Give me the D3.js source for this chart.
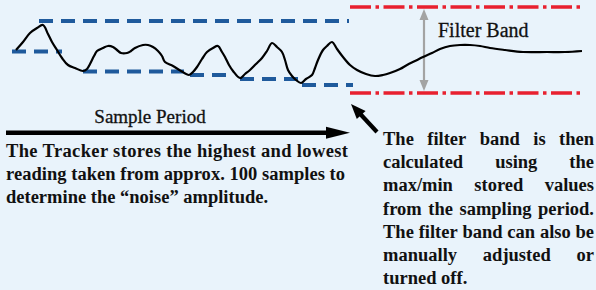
<!DOCTYPE html>
<html>
<head>
<meta charset="utf-8">
<script src="https://cdn.jsdelivr.net/npm/d3@7/dist/d3.min.js"></script>
<style>
  html, body { margin: 0; padding: 0; background: #e9f3fb; }
  svg { display: block; }
</style>
</head>
<body>
<div id="chart"></div>
<script>
// signal trace: sample time vs reading
const sampleTime = [16, 23, 30, 37, 43, 48, 52, 57, 62, 68, 75, 83, 87, 90, 94, 97, 103, 108, 113, 117,
  121, 127, 131, 135, 143, 148, 153, 158, 162, 165, 173, 181, 189, 193, 197, 202, 207, 213, 218, 222,
  225, 229, 233, 240, 245, 250, 256, 262, 267, 272, 277, 282, 285, 288, 292, 296, 301, 306, 312, 315,
  318, 323, 327, 332, 337, 343, 350, 357, 366, 375, 383, 390, 400, 407, 415, 423, 432, 440, 450, 460,
  470, 480, 490, 505, 523, 547, 565, 582];
const sampleReading = [50, 58, 67, 72, 75, 66, 58, 50, 42, 35, 32, 29, 31, 36, 44, 49, 52, 54, 53, 50,
  47, 47, 49, 52, 55, 55, 53, 49, 44, 38, 34, 29, 25, 28, 33, 41, 48, 52, 54, 48,
  43, 35, 29, 22, 26, 30, 36, 42, 49, 57, 53, 48, 40, 30, 24, 20, 17, 21, 25, 32,
  40, 50, 54, 58, 51, 43, 35, 30, 26, 24, 25, 27, 31, 35, 39, 43, 47, 51, 54, 55,
  55, 54, 52, 50, 48, 48, 48, 49];

// stored max / min during the sample period
const maxStart = [39];
const maxEnd = [349];
const maxLevel = [79];
const minStart = [12, 83, 190, 240, 302];
const minEnd = [62, 184, 232, 298, 353];
const minLevel = [48.5, 28.5, 25, 21, 15];

// filter band
const bandStart = 350;
const bandEnd = 582;
const bandUpper = 93;
const bandLower = 7;

const periodStart = 6;
const periodEnd = 350;

const leftLines = [
  "The Tracker stores the highest and lowest",
  "reading taken from approx. 100 samples to",
  "determine the \u201Cnoise\u201D amplitude."
];
const rightLines = [
  "The filter band is then",
  "calculated using the",
  "max/min stored values",
  "from the sampling period.",
  "The filter band can also be",
  "manually adjusted or",
  "turned off."
];

const width = 596, height = 290;
const blue = "#1f5a9c", red = "#e8202f", grey = "#a3a3a3";
const serif = "'Liberation Serif', 'Times New Roman', serif";

const svg = d3.select("#chart").append("svg")
  .attr("width", width)
  .attr("height", height);

svg.append("rect").attr("width", width).attr("height", height).attr("fill", "#e9f3fb");

const x = d3.scaleLinear().domain([0, 596]).range([0, 596]);
const y = d3.scaleLinear().domain([0, 100]).range([100, 0]);

// blue stored max/min
const blueDash = "14,8";
maxStart.forEach((s, i) => {
  svg.append("line")
    .attr("x1", x(s)).attr("x2", x(maxEnd[i]))
    .attr("y1", y(maxLevel[i])).attr("y2", y(maxLevel[i]))
    .attr("stroke", blue).attr("stroke-width", 3.8)
    .attr("stroke-dasharray", blueDash);
});
minStart.forEach((s, i) => {
  svg.append("line")
    .attr("x1", x(s)).attr("x2", x(minEnd[i]))
    .attr("y1", y(minLevel[i])).attr("y2", y(minLevel[i]))
    .attr("stroke", blue).attr("stroke-width", 3.8)
    .attr("stroke-dasharray", blueDash);
});

// red filter band
[bandUpper, bandLower].forEach(v => {
  svg.append("line")
    .attr("x1", x(bandStart)).attr("x2", x(bandEnd))
    .attr("y1", y(v)).attr("y2", y(v))
    .attr("stroke", red).attr("stroke-width", 3.5)
    .attr("stroke-dasharray", "21,4.5,3.5,4.5");
});

// grey double arrow
const gx = 424;
svg.append("line")
  .attr("x1", gx).attr("x2", gx)
  .attr("y1", y(bandUpper) + 8).attr("y2", y(bandLower) - 8)
  .attr("stroke", grey).attr("stroke-width", 2.2);
svg.append("path")
  .attr("d", `M${gx},${y(bandUpper) + 2} L${gx - 4.5},${y(bandUpper) + 13} L${gx + 4.5},${y(bandUpper) + 13} Z`)
  .attr("fill", grey);
svg.append("path")
  .attr("d", `M${gx},${y(bandLower) - 2} L${gx - 4.5},${y(bandLower) - 13} L${gx + 4.5},${y(bandLower) - 13} Z`)
  .attr("fill", grey);

// signal
const pts = sampleTime.map((t, i) => [x(t), y(sampleReading[i])]);
svg.append("path")
  .datum(pts)
  .attr("fill", "none")
  .attr("stroke", "#000")
  .attr("stroke-width", 2.2)
  .attr("d", d3.line().curve(d3.curveCatmullRom.alpha(0.5)));

svg.append("text")
  .attr("x", 438).attr("y", 37)
  .attr("font-family", serif).attr("font-size", 20)
  .attr("fill", "#111").attr("stroke", "#111").attr("stroke-width", 0.3)
  .text("Filter Band");

// sample period arrow
const ay = 132.8;
svg.append("line")
  .attr("x1", periodStart).attr("x2", periodEnd - 22)
  .attr("y1", ay).attr("y2", ay)
  .attr("stroke", "#000").attr("stroke-width", 4.5);
svg.append("path")
  .attr("d", `M${periodEnd},${ay} L${periodEnd - 24},${ay - 6} L${periodEnd - 24},${ay + 6} Z`)
  .attr("fill", "#000");

svg.append("text")
  .attr("x", 150).attr("y", 123)
  .attr("text-anchor", "middle")
  .attr("font-family", serif).attr("font-size", 19)
  .attr("fill", "#111").attr("stroke", "#111").attr("stroke-width", 0.3)
  .text("Sample Period");

// diagonal pointer arrow
const tip = [351, 104], tail = [377, 132];
const dx = tail[0] - tip[0], dy = tail[1] - tip[1];
const len = Math.hypot(dx, dy), ux = dx / len, uy = dy / len;
const hl = 15, hw = 6;
svg.append("line")
  .attr("x1", tail[0]).attr("y1", tail[1])
  .attr("x2", tip[0] + ux * (hl - 1)).attr("y2", tip[1] + uy * (hl - 1))
  .attr("stroke", "#000").attr("stroke-width", 4.2);
svg.append("path")
  .attr("d", `M${tip[0]},${tip[1]} L${tip[0] + ux * hl - uy * hw},${tip[1] + uy * hl + ux * hw} L${tip[0] + ux * hl + uy * hw},${tip[1] + uy * hl - ux * hw} Z`)
  .attr("fill", "#000");

// paragraphs
const bodySize = 18.5;
const leftWidths = [342, 339, null];
leftLines.forEach((l, i) => {
  const t = svg.append("text")
    .attr("x", 6).attr("y", 157 + i * 23)
    .attr("font-family", serif).attr("font-size", bodySize).attr("font-weight", "bold")
    .attr("fill", "#111")
    .text(l);
  if (leftWidths[i]) t.attr("textLength", leftWidths[i]).attr("lengthAdjust", "spacing");
});

// right block, justified word by word
const rx0 = 383, rx1 = 594;
rightLines.forEach((l, i) => {
  const words = l.split(" ");
  const by = 145 + i * 23.2;
  const nodes = words.map(w => svg.append("text")
    .attr("y", by)
    .attr("font-family", serif).attr("font-size", bodySize).attr("font-weight", "bold")
    .attr("fill", "#111")
    .text(w));
  const widths = nodes.map(n => n.node().getComputedTextLength());
  const total = d3.sum(widths);
  const last = i === rightLines.length - 1;
  const gap = (last || words.length < 2) ? bodySize * 0.25 : (rx1 - rx0 - total) / (words.length - 1);
  let cx = rx0;
  nodes.forEach((n, j) => {
    n.attr("x", cx);
    cx += widths[j] + gap;
  });
});
</script>
</body>
</html>
